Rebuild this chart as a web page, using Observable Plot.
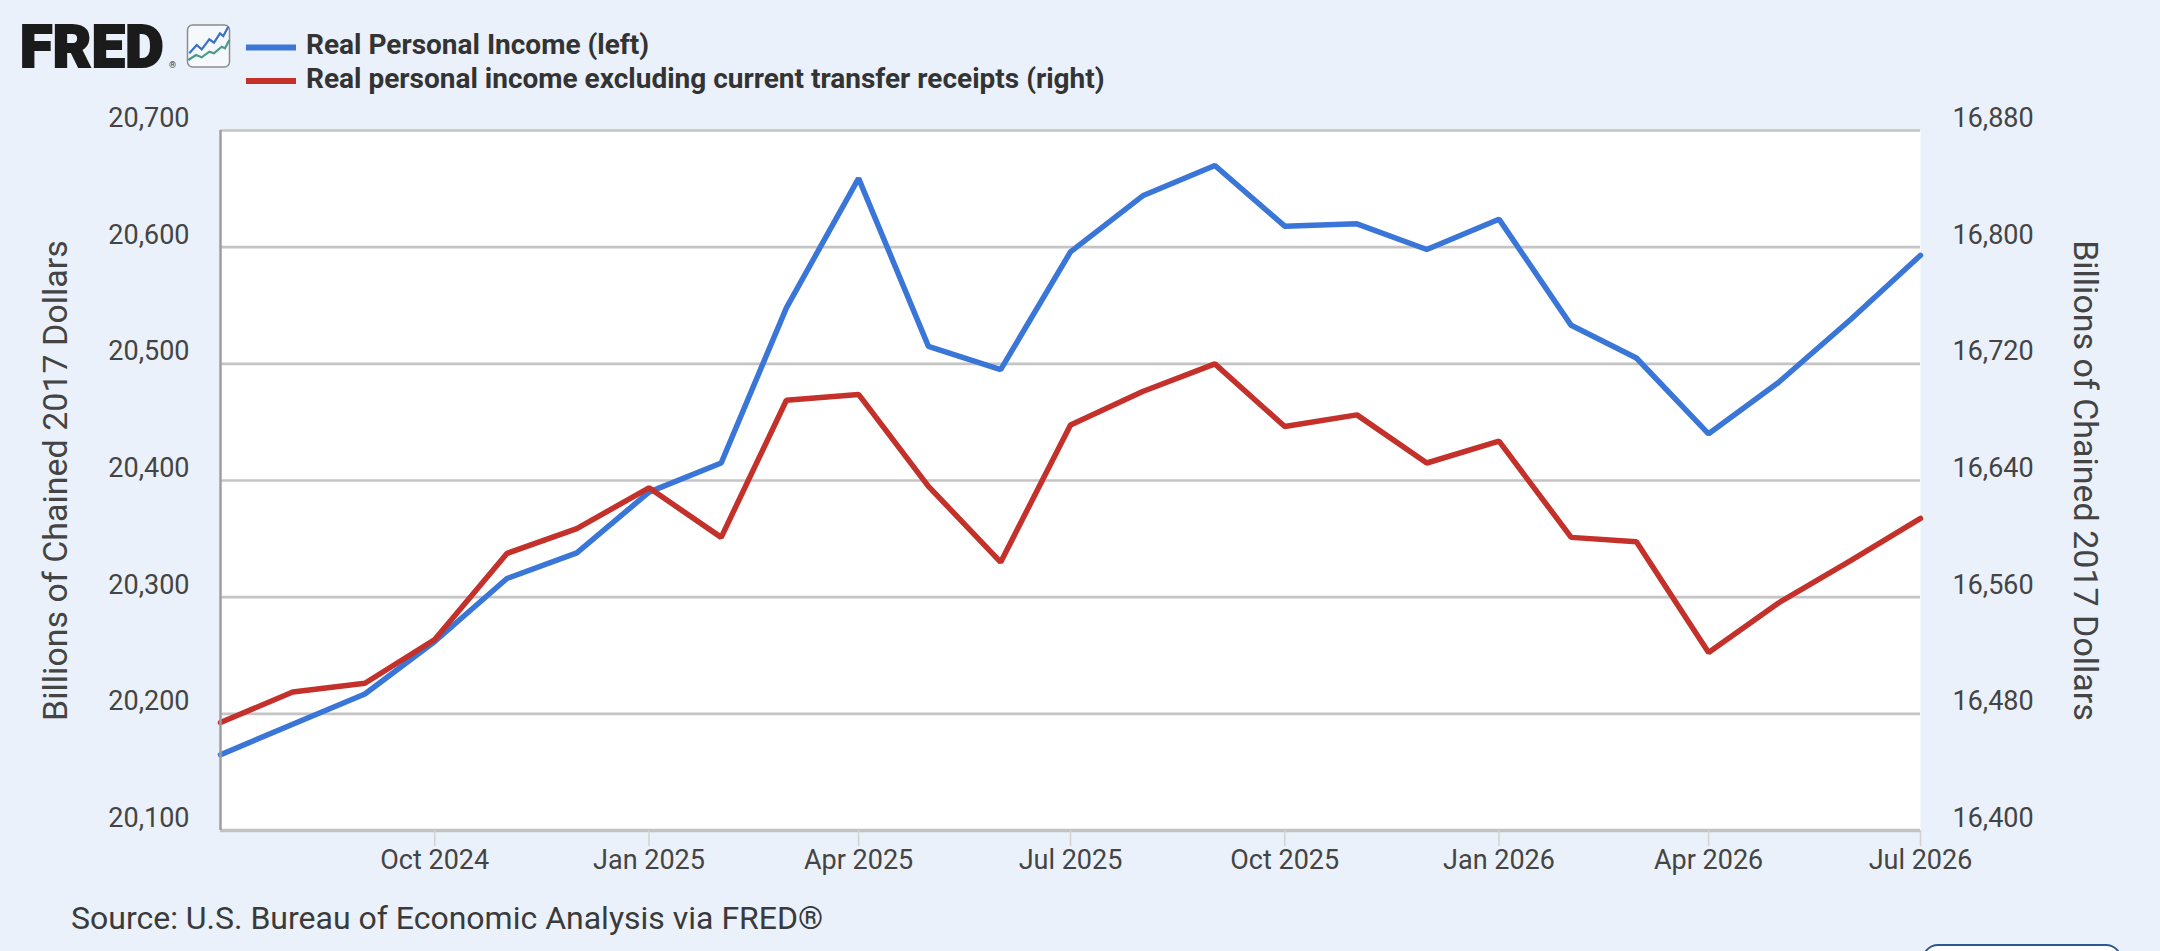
<!DOCTYPE html>
<html>
<head>
<meta charset="utf-8">
<script src="https://cdn.jsdelivr.net/npm/d3@7"></script>
<script src="https://cdn.jsdelivr.net/npm/@observablehq/plot@0.6"></script>
<style>
  html, body { margin: 0; padding: 0; background: #eaf1fa; }
  #root { position: relative; width: 2160px; height: 951px; background: #eaf1fa; overflow: hidden; font-family: Roboto, "Noto Sans", sans-serif; }
  #header { position: absolute; left: 0; top: 0; }
  #chart { position: absolute; left: 0; top: 100px; width: 2160px; height: 790px; }
  #chart svg { display: block; }
  #source { position: absolute; left: 71px; top: 896px; font-size: 32px; color: #3a3a3a; white-space: nowrap; line-height: 44px; }
  #button { position: absolute; left: 1922px; top: 944px; width: 196px; height: 40px; border: 2.5px solid #2b5797; border-radius: 16px; background: #fff; }
</style>
</head>
<body>
<div id="root">
  <svg id="header" width="2160" height="100" xmlns="http://www.w3.org/2000/svg">
    <text x="20" y="67" font-family="Roboto, sans-serif" font-weight="900" font-size="59" fill="#1b1b1b" stroke="#1b1b1b" stroke-width="2.2" letter-spacing="0.5">FRED</text>
    <text x="169" y="68" font-family="Roboto, sans-serif" font-size="9" fill="#333">®</text>
    <rect x="187.5" y="25" width="42" height="42" rx="5" fill="#f6f9fc" stroke="#8c8c8c" stroke-width="1.5"/>
    <polyline points="189.3,53.3 196.7,45 201.7,49.3 209.3,39.3 214,42.7 220,33.3 223.3,36 228.3,26.7" fill="none" stroke="#3b6fc9" stroke-width="2.2"/>
    <polyline points="188.3,60 196,55 201.7,57.3 209.3,51.7 214,53.3 221.7,46.7 225,48.3 229.3,40" fill="none" stroke="#4b9a88" stroke-width="2.2"/>
    <line x1="246" x2="296" y1="47.5" y2="47.5" stroke="#3b75d6" stroke-width="6"/>
    <line x1="246" x2="296" y1="81" y2="81" stroke="#c4312b" stroke-width="6"/>
    <text x="306" y="54" font-family="Roboto, sans-serif" font-weight="700" font-size="28" fill="#333">Real Personal Income (left)</text>
    <text x="306" y="88" font-family="Roboto, sans-serif" font-weight="700" font-size="28" fill="#333">Real personal income excluding current transfer receipts (right)</text>
  </svg>
  <div id="chart"></div>
  <div id="source">Source: U.S. Bureau of Economic Analysis via FRED®</div>
  <div id="button"></div>
</div>
<script>
// ---- Data (monthly, billions of chained 2017 dollars) ----
const months = ["2024-07","2024-08","2024-09","2024-10","2024-11","2024-12",
                "2025-01","2025-02","2025-03","2025-04","2025-05","2025-06",
                "2025-07","2025-08","2025-09","2025-10","2025-11","2025-12",
                "2026-01","2026-02","2026-03","2026-04","2026-05","2026-06","2026-07"];
const realPersonalIncome = [20165, 20191, 20217, 20262, 20316, 20338,
                            20390, 20415, 20548, 20659, 20515, 20495,
                            20596, 20644, 20670, 20618, 20620, 20598,
                            20624, 20533, 20505, 20440, 20484, 20538, 20593];
const realIncomeExTransfers = [16474, 16495, 16501, 16531, 16590, 16607,
                               16635, 16601, 16695, 16699, 16636, 16584,
                               16678, 16701, 16720, 16677, 16685, 16652,
                               16667, 16601, 16598, 16522, 16556, 16585, 16614];
const leftTicks = [20100, 20200, 20300, 20400, 20500, 20600, 20700];
const rightTicks = [16400, 16480, 16560, 16640, 16720, 16800, 16880];
const xTickMonths = ["2024-10","2025-01","2025-04","2025-07","2025-10","2026-01","2026-04","2026-07"];
const xTickLabels = ["Oct 2024","Jan 2025","Apr 2025","Jul 2025","Oct 2025","Jan 2026","Apr 2026","Jul 2026"];
const leftTitle = "Billions of Chained 2017 Dollars";
const rightTitle = "Billions of Chained 2017 Dollars";

// ---- Helpers ----
const parse = m => new Date(m + "-01T00:00:00Z");
const L0 = leftTicks[0], L1 = leftTicks[leftTicks.length - 1];
const R0 = rightTicks[0], R1 = rightTicks[rightTicks.length - 1];
const toLeft = r => L0 + (r - R0) * (L1 - L0) / (R1 - R0);
const toRight = l => R0 + (l - L0) * (R1 - R0) / (L1 - L0);
const fmt = d3.format(",");

const blueData = months.map((m, i) => ({date: parse(m), value: realPersonalIncome[i]}));
const redData = months.map((m, i) => ({date: parse(m), value: toLeft(realIncomeExTransfers[i])}));
const xTicks = xTickMonths.map(parse);

const chart = Plot.plot({
  width: 2160,
  height: 790,
  marginTop: 30,
  marginBottom: 60,
  marginLeft: 220,
  marginRight: 240,
  style: {background: "transparent", fontFamily: "Roboto, sans-serif", fontSize: "27px", color: "#444", overflow: "visible"},
  x: {type: "utc", domain: [parse(months[0]), parse(months[months.length - 1])]},
  y: {domain: [L0, L1]},
  marks: [
    Plot.frame({fill: "white", stroke: "none"}),
    Plot.gridY(leftTicks, {stroke: "#c4c4c4", strokeOpacity: 1, strokeWidth: 2.7}),
    Plot.ruleY([L0], {stroke: "#c2c2c2", strokeWidth: 3.5}),
    Plot.axisX(xTicks, {anchor: "bottom", tickSize: 16, tickPadding: 3, stroke: "#d2d2d2", strokeWidth: 1.5,
      fill: "#444", fontSize: 27, label: null,
      tickFormat: d => xTickLabels[xTicks.findIndex(t => +t === +d)]}),
    Plot.axisY(leftTicks, {anchor: "left", tickSize: 0, tickPadding: 31, dy: -12, fill: "#444", fontSize: 27,
      tickFormat: fmt, label: null}),
    Plot.axisY(rightTicks.map(toLeft), {anchor: "right", tickSize: 0, tickPadding: 32, dy: -12, fill: "#444", fontSize: 27,
      tickFormat: v => fmt(Math.round(toRight(v))), label: null}),
    Plot.text([leftTitle], {frameAnchor: "left", textAnchor: "middle", rotate: -90, dx: -164, text: d => d, fontSize: 34, fill: "#444"}),
    Plot.text([rightTitle], {frameAnchor: "right", textAnchor: "middle", rotate: 90, dx: 164, text: d => d, fontSize: 34, fill: "#444"}),
    Plot.line(blueData, {x: "date", y: "value", stroke: "#3a76d8", strokeWidth: 5.5, strokeLinejoin: "miter"}),
    Plot.line(redData, {x: "date", y: "value", stroke: "#c4312b", strokeWidth: 5.5, strokeLinejoin: "miter"}),
    Plot.ruleX([parse(months[0])], {stroke: "#9e9e9e", strokeWidth: 2.5})
  ]
});
document.getElementById("chart").appendChild(chart);
</script>
</body>
</html>
